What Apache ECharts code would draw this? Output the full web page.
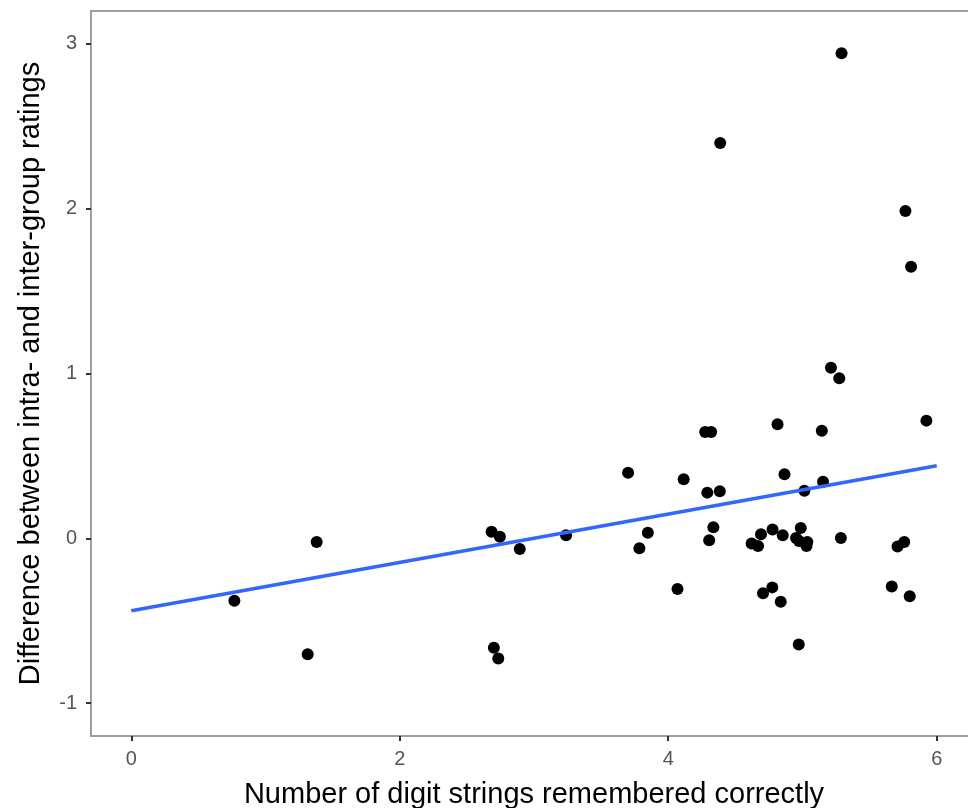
<!DOCTYPE html>
<html>
<head>
<meta charset="utf-8">
<script src="https://cdn.jsdelivr.net/npm/echarts@6/dist/echarts.min.js"></script>
<style>
  html, body { margin: 0; padding: 0; background: #fff; }
  #scatter { width: 968px; height: 808px; }
</style>
</head>
<body>
<div id="scatter"></div>
<script>
// digit strings remembered vs. intra/inter-group rating difference
var digitsRemembered = [
    0.768, 1.314, 1.381, 2.684, 2.746, 2.701, 2.734, 2.894, 3.239, 3.701,
    3.785, 3.848, 4.069, 4.115, 4.275, 4.320, 4.291, 4.384, 4.336, 4.305,
    4.387, 4.621, 4.669, 4.706, 4.691, 4.775, 4.777, 4.838, 4.814, 4.866,
    4.853, 4.972, 4.952, 4.987, 4.974, 5.030, 5.036, 5.014, 5.144, 5.153,
    5.212, 5.274, 5.286, 5.291, 5.665, 5.708, 5.758, 5.767, 5.799, 5.809,
    5.923
];
var ratingDiff = [
    -0.379, -0.704, -0.023, 0.040, 0.009, -0.664, -0.729, -0.065, 0.018, 0.397,
    -0.061, 0.034, -0.308, 0.358, 0.645, 0.645, 0.277, 0.286, 0.067, -0.012,
    2.399, -0.032, -0.047, -0.334, 0.025, -0.298, 0.053, -0.385, 0.692, 0.389,
    0.018, -0.645, 0.002, 0.062, -0.017, -0.047, -0.023, 0.288, 0.653, 0.343,
    1.035, 0.971, 0.002, 2.944, -0.292, -0.050, -0.023, 1.986, -0.352, 1.648,
    0.714
];
// linear fit (geom_smooth lm), read at both ends
var fitX = [0, 6];
var fitY = [-0.44, 0.44];

var xTicks = [0, 2, 4, 6];
var yTicks = [-1, 0, 1, 2, 3];

document.addEventListener('DOMContentLoaded', function () {
    var chartDom = document.getElementById('scatter');
    var myChart = echarts.init(chartDom, null, { renderer: 'canvas' });
    var option;

    var points = digitsRemembered.map(function (x, i) { return [x, ratingDiff[i]]; });
    var fitLine = fitX.map(function (x, i) { return [x, fitY[i]]; });
    var font = '"Liberation Sans", Arial, sans-serif';

    option = {
        animation: false,
        backgroundColor: '#ffffff',
        textStyle: { fontFamily: font },
        grid: {
            left: 91, top: 11, right: -9, bottom: 72,
            outerBoundsMode: 'none',
            containLabel: false,
            show: true, borderColor: '#9e9e9e', borderWidth: 2
        },
        xAxis: {
            type: 'value',
            min: -0.3, max: 6.3,
            name: 'Number of digit strings remembered correctly',
            nameLocation: 'middle',
            nameGap: 44,
            nameTextStyle: { color: '#000', fontSize: 29, fontFamily: font },
            splitLine: { show: false },
            axisLine: { show: true, onZero: false, lineStyle: { color: '#9e9e9e', width: 2 } },
            axisTick: {
                show: true, length: 5, lineStyle: { color: '#333', width: 2 },
                customValues: xTicks
            },
            axisLabel: {
                color: '#555', fontSize: 20, margin: 13, fontFamily: font,
                customValues: xTicks
            }
        },
        yAxis: {
            type: 'value',
            min: -1.2, max: 3.2,
            name: 'Difference between intra- and inter-group ratings',
            nameLocation: 'middle',
            nameGap: 46,
            nameTextStyle: { color: '#000', fontSize: 29, fontFamily: font },
            splitLine: { show: false },
            axisLine: { show: true, onZero: false, lineStyle: { color: '#9e9e9e', width: 2 } },
            axisTick: {
                show: true, length: 5, lineStyle: { color: '#333', width: 2 },
                customValues: yTicks
            },
            axisLabel: {
                color: '#555', fontSize: 20, margin: 14, fontFamily: font,
                customValues: yTicks
            }
        },
        series: [
            {
                type: 'scatter',
                data: points,
                symbol: 'circle',
                symbolSize: 12,
                itemStyle: { color: '#000', opacity: 1 },
                z: 2
            },
            {
                type: 'line',
                data: fitLine,
                showSymbol: false,
                symbol: 'none',
                lineStyle: { color: '#3366FF', width: 3.5 },
                z: 3
            }
        ]
    };

    option && myChart.setOption(option);
});
</script>
</body>
</html>
